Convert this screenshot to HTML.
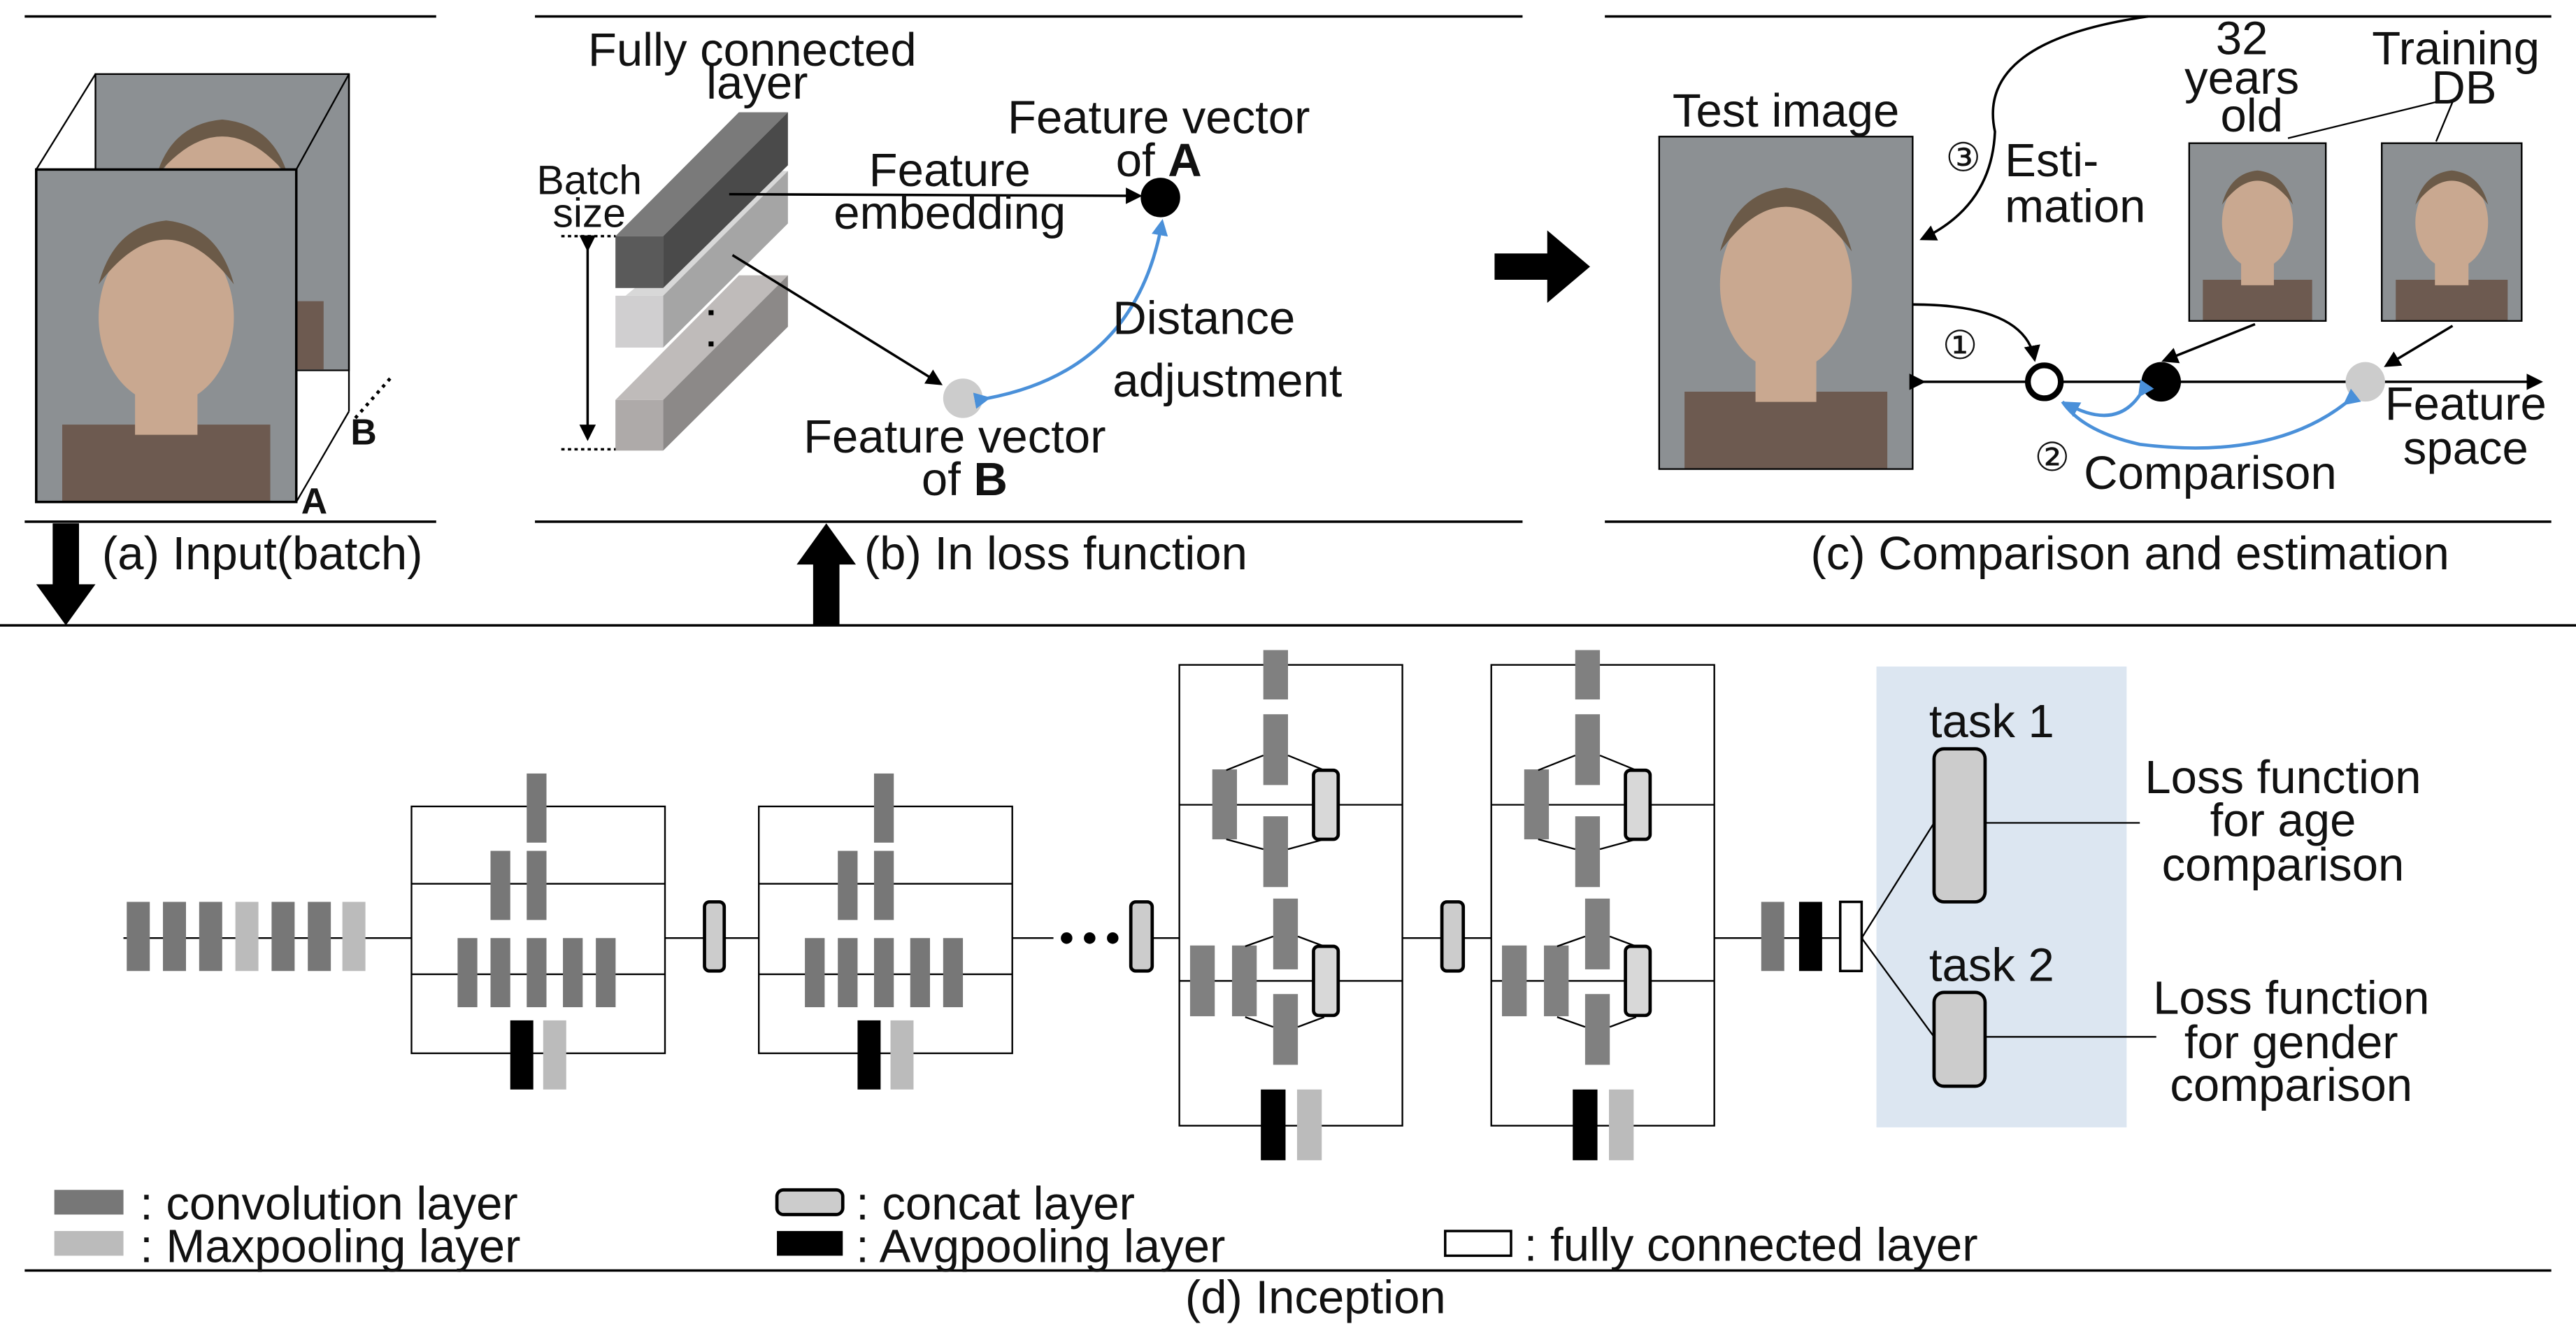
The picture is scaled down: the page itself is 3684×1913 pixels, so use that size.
<!DOCTYPE html>
<html><head><meta charset="utf-8"><style>html,body{margin:0;padding:0;background:#fff}svg{display:block}text{font-family:"Liberation Sans",sans-serif;fill:#111}</style></head><body>
<svg width="3684" height="1913" viewBox="0 0 1565 813" preserveAspectRatio="none" xmlns="http://www.w3.org/2000/svg">
<defs>
<marker id="ah" markerWidth="10" markerHeight="10" refX="8" refY="5" orient="auto" markerUnits="userSpaceOnUse"><path d="M0,0 L10,5 L0,10 z" fill="#000"/></marker>
<marker id="ahb" markerWidth="10" markerHeight="10" refX="8" refY="5" orient="auto" markerUnits="userSpaceOnUse"><path d="M0,0 L10,5 L0,10 z" fill="#4a90d9"/></marker>
<g id="face"><rect width="100" height="130" fill="#8c9093"/><ellipse cx="50" cy="58" rx="26" ry="34" fill="#c9a890"/><path d="M24,45 Q50,10 76,45 Q70,22 50,20 Q30,22 24,45z" fill="#6b5a48"/><rect x="10" y="100" width="80" height="30" fill="#6d5a50"/><rect x="38" y="88" width="24" height="16" fill="#c9a890"/></g>
<g id="inc1"><rect x="0" y="0" width="154" height="150" fill="none" stroke="#000"/><line x1="0" y1="47" x2="154" y2="47" stroke="#000"/><line x1="0" y1="102" x2="154" y2="102" stroke="#000"/>
<g fill="#777"><rect x="70" y="-20" width="12" height="42"/><rect x="48" y="27" width="12" height="42"/><rect x="70" y="27" width="12" height="42"/><rect x="28" y="80" width="12" height="42"/><rect x="48" y="80" width="12" height="42"/><rect x="70" y="80" width="12" height="42"/><rect x="92" y="80" width="12" height="42"/><rect x="112" y="80" width="12" height="42"/></g>
<rect x="60" y="130" width="14" height="42" fill="#000"/><rect x="80" y="130" width="14" height="42" fill="#bbb"/></g>
<g id="inc2"><rect x="0" y="0" width="135.5" height="280" fill="none" stroke="#000"/><line x1="0" y1="85" x2="135.5" y2="85" stroke="#000"/><line x1="0" y1="192" x2="135.5" y2="192" stroke="#000"/>
<g fill="#808080"><rect x="51" y="-9" width="15" height="30"/>
<rect x="51" y="30" width="15" height="43"/><rect x="20" y="63.5" width="15" height="42.5"/><rect x="51" y="92" width="15" height="43"/>
<rect x="57" y="142" width="15" height="43"/><rect x="6.5" y="170.5" width="15" height="43"/><rect x="32" y="170.5" width="15" height="43"/><rect x="57" y="200" width="15" height="43"/></g>
<g stroke="#000" fill="none"><path d="M28.5,64 L51,55 M66,55 L88,64 M28.5,106 L51,112 M66,112 L88,106"/><path d="M40,171 L57,165 M72,165 L88,171 M40,214 L57,220 M72,220 L88,214"/></g>
<rect x="81.5" y="64" width="15" height="42" rx="3" fill="#d8d8d8" stroke="#000" stroke-width="2"/>
<rect x="81.5" y="171" width="15" height="42" rx="3" fill="#d8d8d8" stroke="#000" stroke-width="2"/>
<rect x="49.5" y="258" width="15" height="43" fill="#000"/><rect x="71.5" y="258" width="15" height="43" fill="#bbb"/></g>
</defs>
<g stroke="#000" stroke-width="1.5"><line x1="15" y1="10" x2="265" y2="10"/><line x1="325" y1="10" x2="925" y2="10"/><line x1="975" y1="10" x2="1550" y2="10"/>
<line x1="15" y1="317" x2="265" y2="317"/><line x1="325" y1="317" x2="925" y2="317"/><line x1="975" y1="317" x2="1550" y2="317"/>
<line x1="0" y1="380" x2="1565" y2="380"/><line x1="15" y1="772" x2="1550" y2="772"/></g>
<!-- panel a -->
<use href="#face" transform="translate(58,45) scale(1.54,1.38)"/>
<rect x="58" y="45" width="154" height="180" fill="none" stroke="#000"/>
<use href="#face" transform="translate(22,103) scale(1.58,1.55)"/>
<rect x="22" y="103" width="158" height="202" fill="none" stroke="#000" stroke-width="1.5"/>
<g stroke="#000"><line x1="22" y1="103" x2="58" y2="45"/><line x1="180" y1="103" x2="212" y2="45"/><line x1="180" y1="305" x2="212" y2="250"/><line x1="212" y1="45" x2="212" y2="250"/><line x1="237" y1="230" x2="215" y2="255" stroke-dasharray="2,3" stroke-width="2"/></g>
<text x="213" y="270" font-size="22" font-weight="bold">B</text><text x="183" y="312" font-size="22" font-weight="bold">A</text>
<path d="M32,318 L48,318 L48,355 L58,355 L40,380 L22,355 L32,355Z" fill="#000"/>
<path d="M494,380 L510,380 L510,343 L520,343 L502,318 L484,343 L494,343Z" fill="#000"/>
<text x="62" y="346" font-size="28.5">(a) Input(batch)</text>
<text x="525" y="346" font-size="28.5">(b) In loss function</text>
<text x="1100" y="346" font-size="28.5">(c) Comparison and estimation</text>
<text x="720" y="798" font-size="28.5">(d) Inception</text>
<!-- panel b -->
<path d="M373.9,243 L402.9,243 L478.7,167.3 L448.9,167.3Z" fill="#bfbbba"/>
<path d="M402.9,243 L478.7,167.3 L478.7,198.5 L402.9,273.8Z" fill="#8c8988"/>
<rect x="373.9" y="243" width="29" height="30.8" fill="#aeaaa9"/>
<path d="M373.9,179.7 L402.9,179.7 L478.7,103.9 L472,103.9 L380,179.7Z" fill="#d8d8d8"/>
<path d="M402.9,179.7 L478.7,103.9 L478.7,135.8 L402.9,211.2Z" fill="#a5a5a5"/>
<rect x="373.9" y="179.7" width="29" height="31.5" fill="#d0cfd0"/>
<path d="M373.9,143.5 L402.9,143.5 L478.7,68.2 L448.9,68.2Z" fill="#7a7a7a"/>
<path d="M402.9,143.5 L478.7,68.2 L478.7,100.4 L402.9,175Z" fill="#4a4a4a"/>
<rect x="373.9" y="143.5" width="29" height="31.5" fill="#5a5a5a"/>
<rect x="430.5" y="188.5" width="3" height="3"/><rect x="430.5" y="207.5" width="3" height="3"/>
<line x1="357" y1="151" x2="357" y2="266" stroke="#000" stroke-width="1.5" marker-end="url(#ah)" marker-start="url(#ah)"/>
<line x1="341" y1="143.5" x2="374" y2="143.5" stroke="#000" stroke-width="1.5" stroke-dasharray="2,2"/><line x1="341" y1="273" x2="374" y2="273" stroke="#000" stroke-width="1.5" stroke-dasharray="2,2"/>
<text x="358" y="118" font-size="25" text-anchor="middle">Batch</text><text x="358" y="138" font-size="25" text-anchor="middle">size</text>
<text x="457" y="40" font-size="28.5" text-anchor="middle">Fully connected</text><text x="460" y="60" font-size="28.5" text-anchor="middle">layer</text>
<line x1="443" y1="118" x2="692" y2="119" stroke="#000" stroke-width="1.5" marker-end="url(#ah)"/>
<circle cx="705" cy="120" r="12" fill="#000"/>
<text x="577" y="113" font-size="28.5" text-anchor="middle">Feature</text><text x="577" y="139" font-size="28.5" text-anchor="middle">embedding</text>
<text x="704" y="81" font-size="28.5" text-anchor="middle">Feature vector</text><text x="704" y="107" font-size="28.5" text-anchor="middle">of <tspan font-weight="bold">A</tspan></text>
<line x1="445" y1="155" x2="571" y2="233" stroke="#000" stroke-width="1.5" marker-end="url(#ah)"/>
<circle cx="585" cy="242" r="12" fill="#ccc"/>
<text x="580" y="275" font-size="28.5" text-anchor="middle">Feature vector</text><text x="586" y="301" font-size="28.5" text-anchor="middle">of <tspan font-weight="bold">B</tspan></text>
<path d="M600,242 Q690,225 706,135" fill="none" stroke="#4a90d9" stroke-width="2" marker-end="url(#ahb)" marker-start="url(#ahb)"/>
<text x="676" y="203" font-size="28.5">Distance</text><text x="676" y="241" font-size="28.5">adjustment</text>
<path d="M908,154 L940,154 L940,140 L966,162 L940,184 L940,170 L908,170Z" fill="#000"/>
<!-- panel c -->
<use href="#face" transform="translate(1008,83) scale(1.54,1.55)"/>
<rect x="1008" y="83" width="154" height="202" fill="none" stroke="#000"/>
<use href="#face" transform="translate(1330,87) scale(0.83,0.83)"/><rect x="1330" y="87" width="83" height="108" fill="none" stroke="#000"/>
<use href="#face" transform="translate(1447,87) scale(0.85,0.83)"/><rect x="1447" y="87" width="85" height="108" fill="none" stroke="#000"/>
<text x="1085" y="77" font-size="28.5" text-anchor="middle">Test image</text>
<text x="1362" y="33" font-size="28.5" text-anchor="middle">32</text><text x="1362" y="57" font-size="28.5" text-anchor="middle">years</text><text x="1368" y="80" font-size="28.5" text-anchor="middle">old</text>
<text x="1492" y="39" font-size="28.5" text-anchor="middle">Training</text><text x="1497" y="63" font-size="28.5" text-anchor="middle">DB</text>
<g stroke="#000"><line x1="1390" y1="84" x2="1480" y2="62"/><line x1="1480" y1="86" x2="1490" y2="62"/></g>
<line x1="1168" y1="232" x2="1543" y2="232" stroke="#000" stroke-width="1.5" marker-end="url(#ah)" marker-start="url(#ah)"/>
<circle cx="1242" cy="232" r="10" fill="#fff" stroke="#000" stroke-width="3.5"/>
<circle cx="1313" cy="232" r="12" fill="#000"/>
<circle cx="1437" cy="232" r="12" fill="#ccc"/>
<line x1="1370" y1="197" x2="1315" y2="219" stroke="#000" stroke-width="1.5" marker-end="url(#ah)"/>
<line x1="1490" y1="198" x2="1450" y2="222" stroke="#000" stroke-width="1.5" marker-end="url(#ah)"/>
<path d="M1162,185 Q1230,185 1236,218" fill="none" stroke="#000" stroke-width="1.5" marker-end="url(#ah)"/>
<text x="1180" y="218" font-size="24">①</text>
<path d="M1305,10 Q1200,25 1212,80 Q1210,125 1168,145" fill="none" stroke="#000" stroke-width="1.5" marker-end="url(#ah)"/>
<text x="1182" y="104" font-size="24">③</text><text x="1218" y="107" font-size="28.5">Esti-</text><text x="1218" y="135" font-size="28.5">mation</text>
<path d="M1300,240 Q1285,262 1255,245" fill="none" stroke="#4a90d9" stroke-width="2" marker-end="url(#ahb)" marker-start="url(#ahb)"/>
<path d="M1425,245 Q1380,280 1300,270 Q1265,262 1253,244" fill="none" stroke="#4a90d9" stroke-width="2" marker-start="url(#ahb)"/>
<text x="1236" y="286" font-size="24">②</text><text x="1266" y="297" font-size="28.5">Comparison</text>
<text x="1498" y="255" font-size="28.5" text-anchor="middle">Feature</text><text x="1498" y="282" font-size="28.5" text-anchor="middle">space</text>
<!-- panel d -->
<rect x="1140" y="405" width="152" height="280" fill="#dce6f1"/>
<g stroke="#000"><line x1="75" y1="570" x2="250" y2="570"/><line x1="404" y1="570" x2="461" y2="570"/><line x1="615" y1="570" x2="640" y2="570"/><line x1="687" y1="570" x2="716.5" y2="570"/><line x1="852" y1="570" x2="906" y2="570"/><line x1="1041.5" y1="570" x2="1132" y2="570"/></g>
<g fill="#777"><rect x="77" y="548" width="14" height="42"/><rect x="99" y="548" width="14" height="42"/><rect x="121" y="548" width="14" height="42"/><rect x="165" y="548" width="14" height="42"/><rect x="187" y="548" width="14" height="42"/></g>
<rect x="143" y="548" width="14" height="42" fill="#bbb"/><rect x="208" y="548" width="14" height="42" fill="#bbb"/>
<use href="#inc1" transform="translate(250,490)" /><use href="#inc1" transform="translate(461,490)"/>
<g fill="#ccc" stroke="#000" stroke-width="2"><rect x="428" y="548" width="12" height="42" rx="3"/><rect x="687" y="548" width="13" height="42" rx="3"/><rect x="876" y="548" width="13" height="42" rx="3"/></g>
<circle cx="648" cy="570" r="3.5"/><circle cx="662" cy="570" r="3.5"/><circle cx="676" cy="570" r="3.5"/>
<use href="#inc2" transform="translate(716.5,404)"/><use href="#inc2" transform="translate(906,404)"/>
<rect x="1070" y="548" width="14" height="42" fill="#777"/><rect x="1093" y="548" width="14" height="42" fill="#000"/><rect x="1118" y="548" width="13" height="42" fill="#fff" stroke="#000" stroke-width="1.5"/>
<g stroke="#000"><line x1="1131" y1="570" x2="1175" y2="500"/><line x1="1131" y1="570" x2="1175" y2="630"/><line x1="1206" y1="500" x2="1300" y2="500"/><line x1="1206" y1="630" x2="1310" y2="630"/></g>
<rect x="1175" y="455" width="31" height="93" rx="6" fill="#ccc" stroke="#000" stroke-width="2"/>
<rect x="1175" y="603" width="31" height="57" rx="6" fill="#ccc" stroke="#000" stroke-width="2"/>
<text x="1210" y="448" font-size="28.5" text-anchor="middle">task 1</text><text x="1210" y="596" font-size="28.5" text-anchor="middle">task 2</text>
<text x="1387" y="482" font-size="28.5" text-anchor="middle">Loss function</text><text x="1387" y="508" font-size="28.5" text-anchor="middle">for age</text><text x="1387" y="535" font-size="28.5" text-anchor="middle">comparison</text>
<text x="1392" y="616" font-size="28.5" text-anchor="middle">Loss function</text><text x="1392" y="643" font-size="28.5" text-anchor="middle">for gender</text><text x="1392" y="669" font-size="28.5" text-anchor="middle">comparison</text>
<rect x="33" y="723" width="42" height="15" fill="#777"/><text x="85" y="741" font-size="28.5">: convolution layer</text>
<rect x="33" y="748" width="42" height="15" fill="#bbb"/><text x="85" y="767" font-size="28.5">: Maxpooling layer</text>
<rect x="472" y="723" width="40" height="15" rx="4" fill="#ccc" stroke="#000" stroke-width="2"/><text x="520" y="741" font-size="28.5">: concat layer</text>
<rect x="472" y="748" width="40" height="15" fill="#000"/><text x="520" y="767" font-size="28.5">: Avgpooling layer</text>
<rect x="878" y="748" width="40" height="15" fill="#fff" stroke="#000" stroke-width="1.5"/><text x="926" y="766" font-size="28.5">: fully connected layer</text>
</svg>
</body></html>
